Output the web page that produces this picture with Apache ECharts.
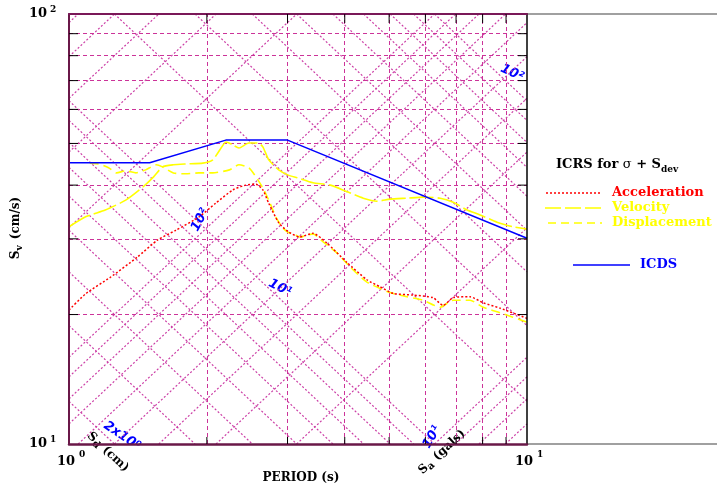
<!DOCTYPE html>
<html><head><meta charset="utf-8">
<script src="https://cdn.jsdelivr.net/npm/echarts@6/dist/echarts.min.js"></script>
<style>html,body{margin:0;padding:0;background:#fff}#c{width:717px;height:487px}</style>
</head><body><div id="c"></div>
<script>
// ---------------- data ----------------
const accT  = [1.0, 1.09, 1.23, 1.41, 1.56, 1.71, 1.92, 2.09, 2.28, 2.43, 2.56, 2.65, 2.73, 2.87, 3.02, 3.19, 3.41, 3.66, 4.05, 4.47, 4.78, 5.10, 5.64, 6.23, 6.56, 6.90, 7.51, 8.02, 8.73, 10.0];
const accSv = [20.5, 22.4, 24.4, 27.2, 29.8, 31.4, 33.7, 36.3, 39.0, 40.0, 40.2, 39.0, 36.3, 32.7, 31.1, 30.3, 30.9, 29.3, 26.4, 24.1, 23.2, 22.4, 22.2, 21.9, 21.0, 21.9, 22.0, 21.3, 20.7, 19.6];

const velT  = [1.0, 1.09, 1.20, 1.33, 1.45, 1.53, 1.60, 1.69, 1.80, 1.96, 2.06, 2.17, 2.20, 2.28, 2.35, 2.47, 2.59, 2.65, 2.73, 2.87, 3.01, 3.15, 3.41, 3.72, 4.05, 4.39, 4.70, 5.02, 5.47, 5.93, 6.46, 6.90, 7.40, 7.90, 8.60, 9.32, 10.0];
const velSv = [32.0, 33.8, 35.0, 36.9, 39.6, 41.8, 44.1, 44.6, 44.8, 45.0, 45.8, 49.6, 50.4, 49.6, 48.8, 50.1, 50.1, 49.1, 45.8, 43.4, 42.2, 41.6, 40.5, 40.0, 38.6, 37.3, 36.7, 37.1, 37.3, 37.5, 37.3, 36.5, 35.0, 34.1, 32.8, 32.0, 31.6];

const dispT  = [1.11, 1.16, 1.22, 1.27, 1.33, 1.40, 1.47, 1.55, 1.60, 1.69, 1.80, 1.92, 2.06, 2.24, 2.35, 2.47, 2.56, 2.65, 2.73, 2.83, 2.93, 3.02, 3.13, 3.19, 3.41, 3.59, 3.85, 4.11, 4.47, 5.02, 5.47, 5.93, 6.46, 6.90, 7.51, 8.02, 8.73, 10.0];
const dispSv = [45.0, 44.8, 43.9, 42.7, 43.2, 42.7, 43.4, 44.6, 44.1, 42.7, 42.5, 42.7, 42.7, 43.4, 44.6, 43.9, 41.8, 39.4, 36.9, 33.7, 31.8, 31.0, 30.6, 30.3, 30.8, 29.5, 27.8, 25.8, 23.8, 22.5, 22.0, 21.6, 20.8, 21.6, 21.6, 20.8, 20.2, 19.2];

const icdsT  = [1.0, 1.5, 2.2, 3.0, 10.0];
const icdsSv = [45.1, 45.1, 50.9, 50.9, 30.1];

const gridT  = [2, 3, 4, 5, 6, 7, 8, 9];
const gridSv = [20, 30, 40, 50, 60, 70, 80, 90];
const sdLines = [2, 3, 4, 5, 6, 7, 8, 9, 10, 20, 30, 40, 50, 60, 70, 80, 90, 100];          // cm
const saLines = [7, 8, 9, 10, 20, 30, 40, 50, 60, 70, 80, 90, 100, 200, 300, 400, 500, 600]; // gals
const xTickLabels = [1, 10];
const yTickLabels = [10, 100];
const T_MIN = 1, T_MAX = 10, SV_MIN = 10, SV_MAX = 100;

// ---------------- helpers ----------------
const SERIF = '"DejaVu Serif"';
const TWO_PI = 2 * Math.PI;
const zip = (a, b) => a.map((v, i) => [v, b[i]]);
function sdSeg(sd) {
  const t1 = Math.max(T_MIN, TWO_PI * sd / SV_MAX), t2 = Math.min(T_MAX, TWO_PI * sd / SV_MIN);
  return { coords: [[t1, TWO_PI * sd / t1], [t2, TWO_PI * sd / t2]] };
}
function saSeg(sa) {
  const t1 = Math.max(T_MIN, SV_MIN * TWO_PI / sa), t2 = Math.min(T_MAX, SV_MAX * TWO_PI / sa);
  return { coords: [[t1, sa * t1 / TWO_PI], [t2, sa * t2 / TWO_PI]] };
}
const mctx = document.createElement('canvas').getContext('2d');
function fontStr(p) { return (p.style || 'normal') + ' ' + (p.weight || 'bold') + ' ' + p.size + 'px ' + (p.family || SERIF); }
function tw(p) { mctx.font = fontStr(p); return mctx.measureText(p.t).width; }
function runGroup(parts, x, y, rotationDeg, anchor) {
  let cx = 0; const els = [];
  parts.forEach(p => {
    const w = tw(p);
    els.push({ type: 'text', x: cx, y: p.dy || 0,
      style: { text: p.t, font: fontStr(p), fill: p.color || '#000', align: 'left', verticalAlign: 'middle' } });
    cx += w + (p.gap || 0);
  });
  const off = anchor === 'left' ? 0 : (anchor === 'right' ? -cx : -cx / 2);
  els.forEach(e => { e.x += off; });
  return { type: 'group', x: x, y: y, rotation: (rotationDeg || 0) * Math.PI / 180, z: 30, children: els };
}

const chart = echarts.init(document.getElementById('c'));
const axisCommon = { type: 'log', logBase: 10, axisTick: { show: false }, axisLabel: { show: false }, splitLine: { show: false }, z: 10 };
chart.setOption({
  animation: false,
  backgroundColor: '#fff',
  grid: { left: 69, top: 14, width: 458, height: 430, containLabel: false },
  xAxis: [
    Object.assign({}, axisCommon, { min: T_MIN, max: T_MAX, position: 'bottom', axisLine: { show: true, onZero: false, lineStyle: { color: '#6a1848', width: 2.5 } } }),
    Object.assign({}, axisCommon, { min: T_MIN, max: T_MAX, position: 'top', axisLine: { show: true, onZero: false, lineStyle: { color: '#7a1858', width: 2 } } })
  ],
  yAxis: [
    Object.assign({}, axisCommon, { min: SV_MIN, max: SV_MAX, position: 'left', axisLine: { show: true, onZero: false, lineStyle: { color: '#6a1848', width: 2 } } }),
    Object.assign({}, axisCommon, { min: SV_MIN, max: SV_MAX, position: 'right', axisLine: { show: true, onZero: false, lineStyle: { color: '#000', width: 1.5 } } })
  ],
  series: [
    { type: 'lines', coordinateSystem: 'cartesian2d', silent: true, z: 1,
      lineStyle: { color: '#cc3fa6', width: 1.2, type: [2, 2], opacity: 1 },
      data: sdLines.map(sdSeg).concat(saLines.map(saSeg)) },
    { type: 'lines', coordinateSystem: 'cartesian2d', silent: true, z: 1,
      lineStyle: { color: '#cc3399', width: 1, type: [4, 3], opacity: 1 },
      data: gridT.map(t => ({ coords: [[t, SV_MIN], [t, SV_MAX]] })).concat(gridSv.map(v => ({ coords: [[T_MIN, v], [T_MAX, v]] }))) },
    { name: 'Velocity', type: 'line', data: zip(velT, velSv), showSymbol: false, smooth: 0.2, z: 3,
      lineStyle: { color: '#ffff00', width: 1.6, type: [24, 4] } },
    { name: 'Displacement', type: 'line', data: zip(dispT, dispSv), showSymbol: false, smooth: 0.2, z: 3,
      lineStyle: { color: '#ffff00', width: 1.6, type: [9, 5] } },
    { name: 'Acceleration', type: 'line', data: zip(accT, accSv), showSymbol: false, smooth: 0.2, z: 4,
      lineStyle: { color: '#ff0000', width: 1.5, type: [2, 2] } },
    { name: 'ICDS', type: 'line', data: zip(icdsT, icdsSv), showSymbol: false, z: 5,
      lineStyle: { color: '#0000ff', width: 1.5 } }
  ]
});

// ---------------- ticks, labels, annotations ----------------
const px = (t, v) => chart.convertToPixel({ gridIndex: 0 }, [t, v]);
const W = chart.getWidth();
const g = [];
const tick = (x1, y1, x2, y2) => g.push({ type: 'line', z: 20, shape: { x1, y1, x2, y2 }, style: { stroke: '#000', lineWidth: 1 } });
gridSv.forEach(v => { const a = px(T_MIN, v), b = px(T_MAX, v); tick(a[0], a[1], a[0] + 9, a[1]); tick(b[0] - 9, b[1], b[0], b[1]); });
gridT.forEach(t => { const a = px(t, SV_MAX), b = px(t, SV_MIN); tick(a[0], a[1], a[0], a[1] + 9); tick(b[0], b[1], b[0], b[1] - 7); });
[SV_MAX, SV_MIN].forEach(v => { const p = px(T_MAX, v); g.push({ type: 'line', z: 9, shape: { x1: p[0], y1: p[1], x2: W, y2: p[1] }, style: { stroke: '#808080', lineWidth: 1.5 } }); });
const sup = { '0': '0', '1': '1', '2': '2' };
yTickLabels.forEach(v => {
  const p = px(T_MIN, v), e = String(Math.round(Math.log10(v)));
  g.push(runGroup([{ t: '10', size: 13 }], p[0] - 22, p[1], 0, 'right'));
  g.push(runGroup([{ t: sup[e], size: 9 }], p[0] - 19, p[1] - 4, 0, 'left'));
});
xTickLabels.forEach(t => {
  const p = px(t, SV_MIN), e = String(Math.round(Math.log10(t)));
  g.push(runGroup([{ t: '10', size: 13 }], p[0] + 6, p[1] + 18, 0, 'right'));
  g.push(runGroup([{ t: sup[e], size: 9 }], p[0] + 10, p[1] + 11, 0, 'left'));
});
g.push(runGroup([{ t: 'PERIOD (s)', size: 12 }], 301, 478, 0, 'center'));
g.push(runGroup([{ t: 'S', size: 12 }, { t: 'v', size: 9, dy: 4, gap: 6 }, { t: '(cm/s)', size: 12 }], 16, 228, 90, 'center'));
g.push(runGroup([{ t: 'S', size: 12 }, { t: 'd', size: 10, dy: 3, gap: 5 }, { t: '(cm)', size: 12 }], 108, 452, -43, 'center'));
g.push(runGroup([{ t: 'S', size: 12 }, { t: 'a', size: 10, dy: 3, gap: 5 }, { t: '(gals)', size: 12 }], 442, 452, 43, 'center'));
const blue = (txt, x, y, r) => g.push(runGroup([{ t: txt, size: 13, color: '#0000ff', family: '"DejaVu Sans"', weight: 'bold', style: 'italic' }], x, y, r, 'center'));
blue('2x10\u2070', 122, 436, -34);
blue('10\u00b2', 200, 220, 62);
blue('10\u00b9', 280, 288, -27);
blue('10\u00b2', 512, 73, -25);
blue('10\u00b9', 432, 437, 60);
g.push(runGroup([{ t: 'ICRS for ', size: 13 }, { t: '\u03c3', size: 13, weight: 'normal' }, { t: ' + S', size: 13 }, { t: 'dev', size: 9, dy: 5 }], 556, 165, 0, 'left'));
const legLine = (x1, x2, y, color, dash) => g.push({ type: 'line', z: 20, shape: { x1, y1: y, x2, y2: y }, style: { stroke: color, lineWidth: 1.5, lineDash: dash } });
legLine(546, 602, 193, '#ff0000', [2, 2]);
legLine(545, 602, 208, '#ffff00', [16, 4]);
legLine(548, 602, 223, '#ffff00', [8, 5]);
legLine(573, 630, 265, '#0000ff', null);
g.push(runGroup([{ t: 'Acceleration', size: 13, color: '#ff0000' }], 612, 193, 0, 'left'));
g.push(runGroup([{ t: 'Velocity', size: 13, color: '#ffff00' }], 612, 208, 0, 'left'));
g.push(runGroup([{ t: 'Displacement', size: 13, color: '#ffff00' }], 612, 223, 0, 'left'));
g.push(runGroup([{ t: 'ICDS', size: 13, color: '#0000ff' }], 640, 265, 0, 'left'));
chart.setOption({ graphic: g });
</script></body></html>
